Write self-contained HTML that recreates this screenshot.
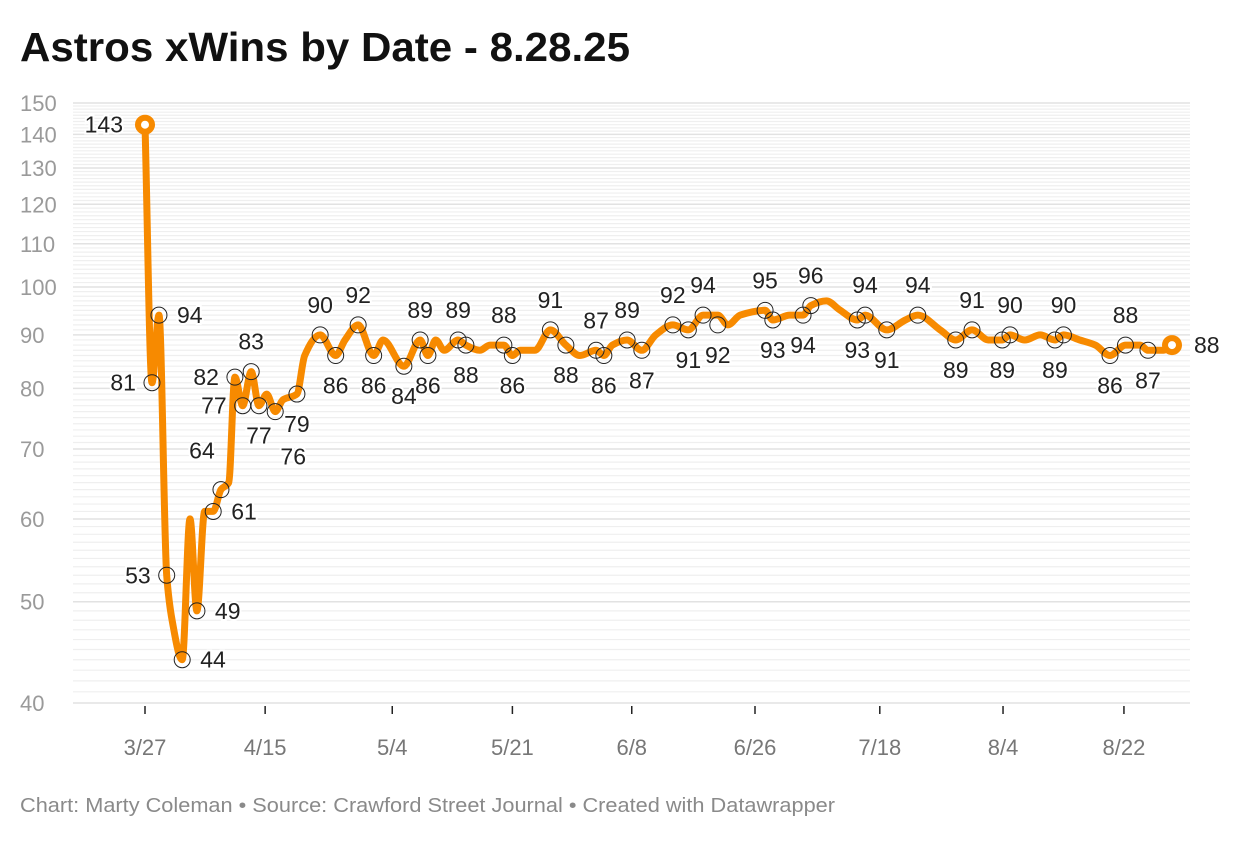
<!DOCTYPE html>
<html><head><meta charset="utf-8"><style>
body{margin:0;background:#fff;font-family:"Liberation Sans",sans-serif;}
svg text{font-family:"Liberation Sans",sans-serif;}
</style></head><body>
<svg id="chart" width="1240" height="840" xmlns="http://www.w3.org/2000/svg">
<text x="20" y="61" font-size="41" font-weight="bold" fill="#111" textLength="610" lengthAdjust="spacingAndGlyphs">Astros xWins by Date - 8.28.25</text>
<text x="20" y="812" font-size="20" fill="#8a8a8a" textLength="815" lengthAdjust="spacingAndGlyphs">Chart: Marty Coleman • Source: Crawford Street Journal • Created with Datawrapper</text>
<g id="grid"></g><g id="axes"></g><g id="line"></g><g id="marks"></g>
</svg>
<script>
const xVals=[0,0.9,1.8,2.8,3.5,4.8,5.8,6.7,7.7,8.8,9.8,10.8,11.6,12.6,13.7,14.7,15.7,16.8,17.8,19.6,20.6,22.6,24.6,25.8,27.5,29.5,30.7,33.4,35.5,36.5,37.5,38.6,40.4,41.4,43.2,44.5,46.3,47.4,48.4,50.3,52.3,54.3,56.1,58.2,59.2,60.3,62.2,64.1,65.9,68.1,70.1,72,73.9,75.2,76.8,80,81,83.2,84.9,85.9,87.9,89.7,91.9,92.9,95.7,98.1,99.7,102.6,104.6,106.7,108.8,110.6,111.6,113.5,115.5,117.4,118.5,120.6,122.6,124.5,126.5,128.4,129.4,131.4,132.5];
const yVals=[143,81,94,53,48,44,60,49,61,61,64,65,82,77,83,77,79,76,78,79,86,90,86,89,92,86,89,84,89,86,89,87,89,88,87,88,88,86,87,87,91,88,86,87,86,88,89,87,90,92,91,94,94,92,94,95,93,94,94,96,97,95,93,94,91,93,94,91,89,91,89,89,90,89,90,89,90,89,88,86,88,88,87,87,88];
const labelX=[0,0.9,1.8,2.8,4.8,6.7,8.8,9.8,11.6,12.6,13.7,14.7,16.8,19.6,22.6,24.6,27.5,29.5,33.4,35.5,36.5,40.4,41.4,46.3,47.4,52.3,54.3,58.2,59.2,62.2,64.1,68.1,70.1,72,73.9,80,81,84.9,85.9,91.9,92.9,95.7,99.7,104.6,106.7,110.6,111.6,117.4,118.5,124.5,126.5,129.4,132.5];
const labelY=[143,81,94,53,44,49,61,64,82,77,83,77,76,79,90,86,92,86,84,89,86,89,88,88,86,91,88,87,86,89,87,92,91,94,92,95,93,94,96,93,94,91,94,89,91,89,90,89,90,86,88,87,88];
const labelSide=['l','l','r','l','r','r','r','tl','l','l','t','b','br','b','t','b','t','b','b','t','b','t','b','t','b','t','b','t','b','t','b','t','b','t','b','t','b','b','t','b','t','b','t','b','t','b','t','b','t','b','t','b','r'];
const tickLabels=['3/27','4/15','5/4','5/21','6/8','6/26','7/18','8/4','8/22'];
const tickX=[0,15.5,31.9,47.4,62.8,78.7,94.8,110.7,126.3];
const yTicks=[40,50,60,70,80,90,100,110,120,130,140,150];

const X0=145,X1=1172,D0=0,D1=132.5;
const xs=v=>X0+(v-D0)/(D1-D0)*(X1-X0);
const YB=703,YT=103,L0=Math.log(40),L1=Math.log(150);
const ys=v=>YB-(Math.log(v)-L0)/(L1-L0)*(YB-YT);
const NS='http://www.w3.org/2000/svg';
function mk(tag,attrs,parent,text){const e=document.createElementNS(NS,tag);for(const k in attrs)e.setAttribute(k,attrs[k]);if(text!==undefined)e.textContent=text;document.getElementById(parent).appendChild(e);return e;}

for(let v=40;v<=150;v++){
  const major=yTicks.includes(v);
  const l=mk('line',{x1:73,x2:1190,y1:ys(v),y2:ys(v),stroke:major?'#e2e2e2':'#efefef','stroke-width':major?1.5:1.2},'grid');
  
  
}
yTicks.forEach(v=>{
  const t=mk('text',{x:20,y:ys(v)+8,'font-size':22,fill:'#9a9a9a'},'axes',String(v));
  
  
});
tickX.forEach((v,i)=>{
  const l=mk('line',{x1:xs(v),x2:xs(v),y1:YB+3,y2:YB+11,stroke:'#222','stroke-width':1.5},'axes');
  
  
  const t=mk('text',{x:xs(v),y:755,'font-size':22,fill:'#777','text-anchor':'middle'},'axes',tickLabels[i]);
  
  
});
const P=xVals.map((v,i)=>[xs(v),ys(yVals[i])]);
const n=P.length,m=[],dl=[];
for(let i=0;i<n-1;i++)dl.push((P[i+1][1]-P[i][1])/(P[i+1][0]-P[i][0]));
for(let i=0;i<n;i++){
  if(i===0)m.push(dl[0]);else if(i===n-1)m.push(dl[n-2]);
  else{const a=dl[i-1],b=dl[i];if(a*b<=0)m.push(0);else{const h0=P[i][0]-P[i-1][0],h1=P[i+1][0]-P[i][0];m.push(3*(h0+h1)/((2*h1+h0)/a+(h1+2*h0)/b));}}
}
let d='M'+P[0][0].toFixed(1)+','+P[0][1].toFixed(1);
for(let i=0;i<n-1;i++){const h=(P[i+1][0]-P[i][0])/3;
  d+='C'+(P[i][0]+h).toFixed(1)+','+(P[i][1]+m[i]*h).toFixed(1)+' '+(P[i+1][0]-h).toFixed(1)+','+(P[i+1][1]-m[i+1]*h).toFixed(1)+' '+P[i+1][0].toFixed(1)+','+P[i+1][1].toFixed(1);}
const p=mk('path',{d:d,fill:'none',stroke:'#f78a00','stroke-width':7,'stroke-linejoin':'round','stroke-linecap':'round'},'line');


labelX.forEach((v,i)=>{
  const cx=xs(v),cy=ys(labelY[i]);
  const end=(i===0||i===labelX.length-1);
  if(end){
    const c=mk('circle',{cx:cx,cy:cy,r:7,fill:'#fff',stroke:'#f78a00','stroke-width':6},'marks');
    
    
  }else{
    const c=mk('circle',{cx:cx,cy:cy,r:8,fill:'none',stroke:'#222','stroke-width':1},'marks');
    
    
  }
  const s=labelSide[i];let tx=cx,ty=cy+8,anc='middle';
  if(s==='l'){tx=cx-(end?22:16);anc='end';}
  if(s==='r'){tx=cx+(end?22:18);anc='start';}
  if(s==='t'){ty=cy-22;}
  if(s==='b'){ty=cy+38;}
  if(s==='tl'){tx=cx-19;ty=cy-31;}
  if(s==='br'){tx=cx+18;ty=cy+53;}
  const t=mk('text',{x:tx,y:ty,'font-size':23,fill:'#222','text-anchor':anc,stroke:'#fff','stroke-width':4,'paint-order':'stroke'},'marks',String(labelY[i]));
  
  
});
</script>
</body></html>
